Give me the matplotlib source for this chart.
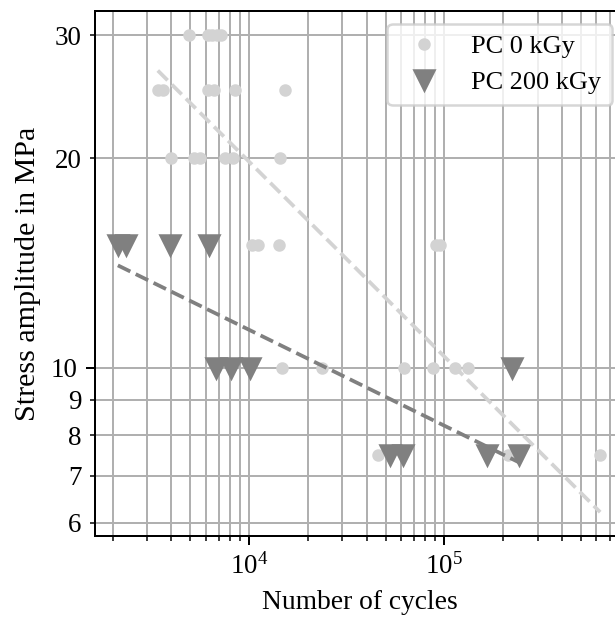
import matplotlib
matplotlib.use('Agg')
import matplotlib.pyplot as plt
from matplotlib.ticker import FormatStrFormatter, NullFormatter

plt.rcParams['font.family'] = ['Liberation Serif', 'DejaVu Serif']
plt.rcParams['mathtext.fontset'] = 'custom'
plt.rcParams['mathtext.rm'] = 'Liberation Serif'
plt.rcParams['mathtext.it'] = 'Liberation Serif:italic'
plt.rcParams['font.size'] = 10.8

# PC 0 kGy (cycles, stress amplitude in MPa)
cycles_0 = [4920, 6170, 6470, 6850, 7200,
            3410, 3620, 6160, 6610, 8470, 15300,
            3980, 5220, 5610, 7530, 8280, 14400,
            10350, 11100, 14250, 91000, 95000,
            14760, 23650, 62200, 87500, 113500, 132000,
            45800, 212000, 627000]
stress_0 = [30, 30, 30, 30, 30,
            25, 25, 25, 25, 25, 25,
            20, 20, 20, 20, 20, 20,
            15, 15, 15, 15, 15,
            10, 10, 10, 10, 10, 10,
            7.5, 7.5, 7.5]

# PC 200 kGy
cycles_200 = [2130, 2340, 3940, 6240,
              6780, 8090, 10120, 222000,
              52700, 61400, 165000, 241000]
stress_200 = [15, 15, 15, 15,
              10, 10, 10, 10,
              7.5, 7.5, 7.5, 7.5]

# fit lines (end points)
fit_cycles_0 = [3410, 627000]
fit_stress_0 = [26.7, 6.21]
fit_cycles_200 = [2130, 241000]
fit_stress_200 = [14.03, 7.32]

fig = plt.figure(figsize=(615 / 180, 621 / 180), dpi=180)
ax = fig.add_axes([95 / 615, 1 - 536 / 621, 530 / 615, 525 / 621])

ax.plot(cycles_0, stress_0, 'o', color='lightgray', markersize=4, label='PC 0 kGy')
ax.plot(cycles_200, stress_200, 'v', color='gray', markersize=8, label='PC 200 kGy')
ax.plot(fit_cycles_0, fit_stress_0, '--', color='lightgray', linewidth=1.5)
ax.plot(fit_cycles_200, fit_stress_200, '--', color='gray', linewidth=1.5)

ax.set_xscale('log')
ax.set_yscale('log')
ax.set_xlim(1627, 8.4e5)
ax.set_ylim(5.74, 32.5)

ax.yaxis.set_major_formatter(FormatStrFormatter('%g'))
ax.yaxis.set_minor_formatter(FormatStrFormatter('%g'))
ax.xaxis.set_minor_formatter(NullFormatter())

ax.grid(which='both', color='#b0b0b0', linewidth=0.8)

ax.set_xlabel('Number of cycles', fontsize=11)
ax.set_ylabel('Stress amplitude in MPa', fontsize=12)
ax.legend(loc='upper right', fontsize=10.5)

fig.savefig('out.png', dpi=180)
